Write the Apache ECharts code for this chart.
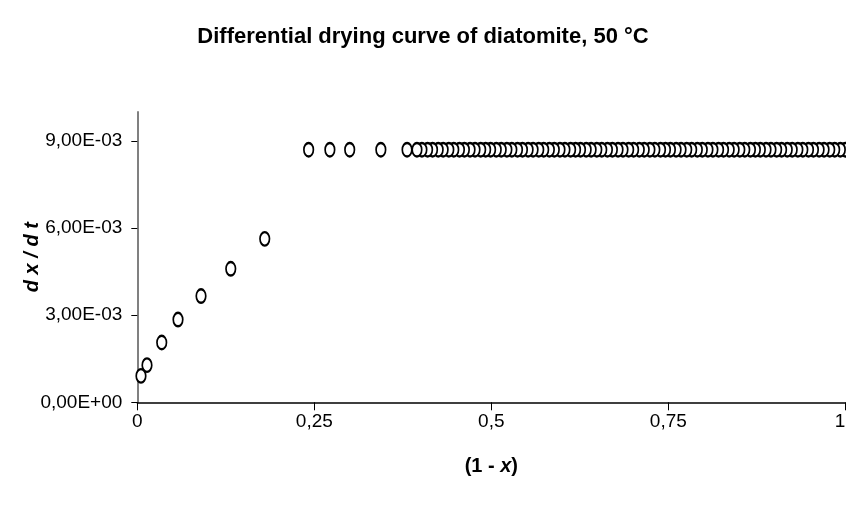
<!DOCTYPE html>
<html>
<head>
<meta charset="utf-8">
<script src="https://cdn.jsdelivr.net/npm/echarts@6/dist/echarts.min.js"></script>
<style>html,body{margin:0;padding:0;background:#fff;}#c{width:846px;height:506px;}</style>
</head>
<body>
<div id="c"></div>
<script>
const titleText = 'Differential drying curve of diatomite, 50 °C';
const xTicks = [0, 0.25, 0.5, 0.75, 1];
const yTicks = [0, 0.003, 0.006, 0.009];

// (1 - x) values, in recorded order (decreasing)
const plateauX = [1.000, 0.993, 0.985, 0.978, 0.970, 0.963, 0.955, 0.948, 0.940, 0.933,
  0.925, 0.918, 0.910, 0.903, 0.895, 0.888, 0.880, 0.873, 0.866, 0.858,
  0.851, 0.843, 0.836, 0.828, 0.821, 0.813, 0.806, 0.798, 0.791, 0.783,
  0.776, 0.768, 0.761, 0.753, 0.746, 0.739, 0.731, 0.724, 0.716, 0.709,
  0.701, 0.694, 0.686, 0.679, 0.671, 0.664, 0.656, 0.649, 0.641, 0.634,
  0.626, 0.619, 0.612, 0.604, 0.597, 0.589, 0.582, 0.574, 0.567, 0.559,
  0.552, 0.544, 0.537, 0.529, 0.522, 0.514, 0.507, 0.499, 0.492, 0.485,
  0.477, 0.470, 0.462, 0.455, 0.447, 0.440, 0.432, 0.425, 0.417, 0.410,
  0.402, 0.395, 0.381, 0.344, 0.300, 0.272, 0.242];
const plateauY = [0.0087, 0.0087, 0.0087, 0.0087, 0.0087, 0.0087, 0.0087, 0.0087, 0.0087, 0.0087,
  0.0087, 0.0087, 0.0087, 0.0087, 0.0087, 0.0087, 0.0087, 0.0087, 0.0087, 0.0087,
  0.0087, 0.0087, 0.0087, 0.0087, 0.0087, 0.0087, 0.0087, 0.0087, 0.0087, 0.0087,
  0.0087, 0.0087, 0.0087, 0.0087, 0.0087, 0.0087, 0.0087, 0.0087, 0.0087, 0.0087,
  0.0087, 0.0087, 0.0087, 0.0087, 0.0087, 0.0087, 0.0087, 0.0087, 0.0087, 0.0087,
  0.0087, 0.0087, 0.0087, 0.0087, 0.0087, 0.0087, 0.0087, 0.0087, 0.0087, 0.0087,
  0.0087, 0.0087, 0.0087, 0.0087, 0.0087, 0.0087, 0.0087, 0.0087, 0.0087, 0.0087,
  0.0087, 0.0087, 0.0087, 0.0087, 0.0087, 0.0087, 0.0087, 0.0087, 0.0087, 0.0087,
  0.0087, 0.0087, 0.0087, 0.0087, 0.0087, 0.0087, 0.0087];
const fallingX = [0.180, 0.132, 0.090, 0.0575, 0.0345, 0.0137, 0.0052];
const fallingY = [0.00563, 0.00460, 0.00366, 0.00285, 0.00206, 0.00128, 0.00091];

const data = [];
plateauX.forEach((v, i) => data.push([v, plateauY[i]]));
fallingX.forEach((v, i) => data.push([v, fallingY[i]]));

const FONT = '"Liberation Sans Narrow", "Liberation Sans", Arial, sans-serif';

const chart = echarts.init(document.getElementById('c'), null, {renderer: 'canvas'});
chart.setOption({
  animation: false,
  backgroundColor: '#ffffff',
  title: {
    text: titleText,
    left: 'center',
    top: 21,
    textStyle: {fontFamily: FONT, fontSize: 22, fontWeight: 'bold', color: '#000'}
  },
  grid: {left: 137.3, right: 0.7, top: 112, bottom: 103.7, outerBoundsMode: 'none', containLabel: false},
  xAxis: {
    type: 'value', min: 0, max: 1,
    name: '{b|(1 - }{i|x}{b|)}',
    nameLocation: 'middle', nameGap: 54, nameMoveOverlap: false,
    nameTextStyle: {
      fontFamily: FONT, fontSize: 20, color: '#000',
      rich: {
        b: {fontFamily: FONT, fontSize: 20, fontWeight: 'bold', color: '#000'},
        i: {fontFamily: FONT, fontSize: 20, fontWeight: 'bold', fontStyle: 'italic', color: '#000'}
      }
    },
    axisLine: {lineStyle: {color: '#000', width: 1.5}},
    axisTick: {show: true, length: 8, inside: false, customValues: xTicks, lineStyle: {color: '#000', width: 1}},
    axisLabel: {
      customValues: xTicks, margin: 10, hideOverlap: false, alignMaxLabel: 'right',
      fontFamily: FONT, fontSize: 19, color: '#000',
      formatter: v => String(v).replace('.', ',')
    },
    splitLine: {show: false}
  },
  yAxis: {
    type: 'value', min: 0, max: 0.01,
    name: 'd x / d t',
    nameLocation: 'middle', nameGap: 95, nameRotate: 90, nameMoveOverlap: false,
    nameTextStyle: {fontFamily: FONT, fontSize: 20, fontWeight: 'bold', fontStyle: 'italic', color: '#000'},
    axisLine: {lineStyle: {color: '#808080', width: 2}},
    axisTick: {show: true, length: 6, inside: false, customValues: yTicks, lineStyle: {color: '#000', width: 1}},
    axisLabel: {
      customValues: yTicks, margin: 15, hideOverlap: false,
      fontFamily: FONT, fontSize: 19, color: '#000',
      formatter: v => {
        const s = Number(v).toExponential(2);
        const parts = s.split('e');
        const mant = parts[0].replace('.', ',');
        let exp = parseInt(parts[1], 10);
        const sign = exp < 0 ? '-' : '+';
        exp = Math.abs(exp);
        return mant + 'E' + sign + (exp < 10 ? '0' + exp : String(exp));
      }
    },
    splitLine: {show: false}
  },
  series: [{
    type: 'scatter',
    data: data,
    symbol: 'circle',
    symbolSize: [9.5, 13.5],
    itemStyle: {color: '#ffffff', borderColor: '#000', borderWidth: 2, opacity: 1},
    emphasis: {disabled: true},
    clip: false
  }]
});
</script>
</body>
</html>
